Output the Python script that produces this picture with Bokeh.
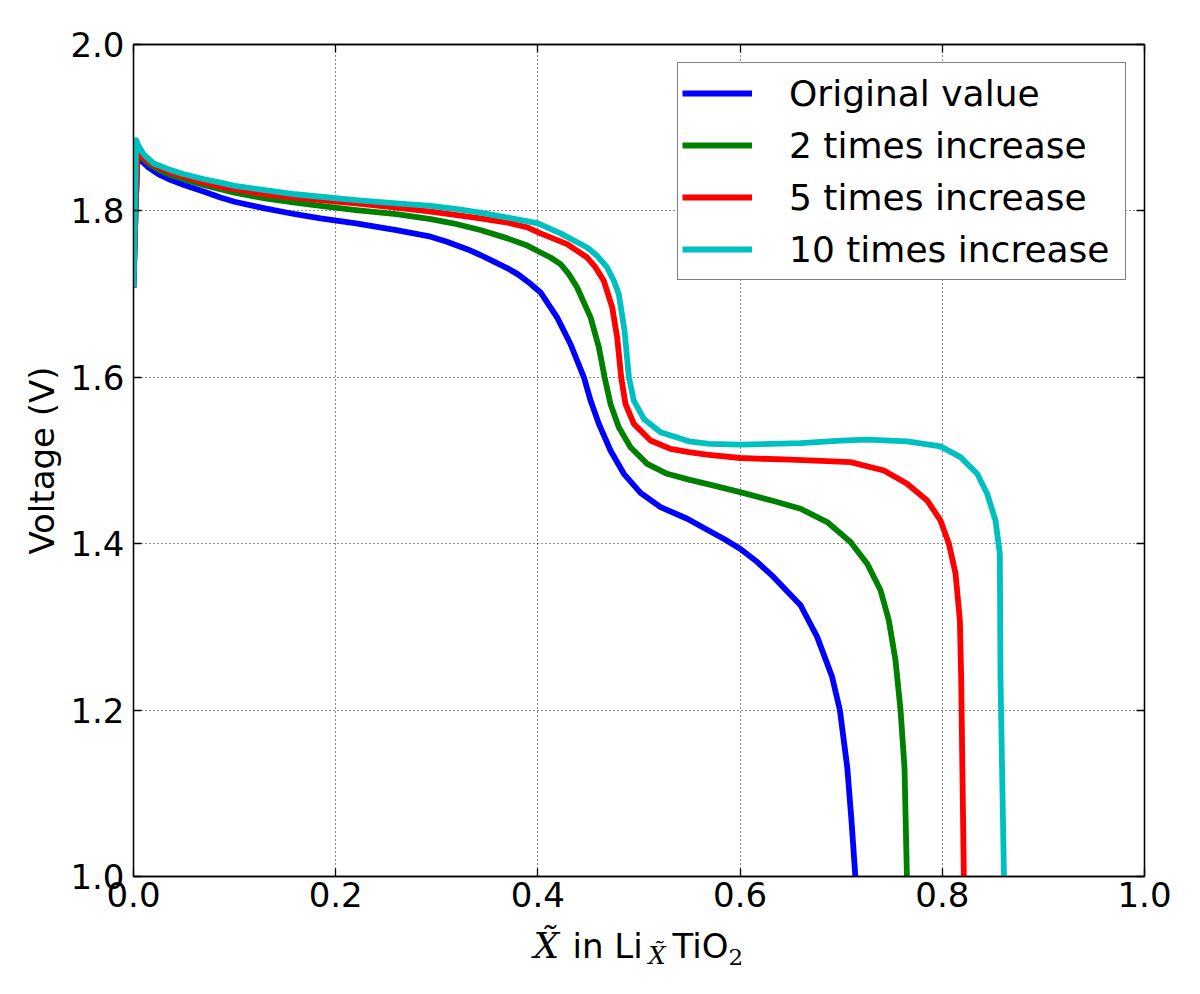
from bokeh.plotting import figure
from bokeh.layouts import column
from bokeh.models import Range1d, FixedTicker, LinearAxis, Legend, LegendItem, CustomJSTickFormatter
from bokeh.core.properties import value
from bokeh.embed import file_html
from bokeh.resources import INLINE

# ---------------- data ----------------
x_orig = [0.0, 0.002, 0.004, 0.008, 0.015, 0.025, 0.037, 0.05, 0.07, 0.086, 0.1, 0.13, 0.16, 0.185,
          0.22, 0.26, 0.294, 0.31, 0.33, 0.343, 0.355, 0.37, 0.38, 0.392, 0.4026, 0.419, 0.4322,
          0.4455, 0.4521, 0.4603, 0.4718, 0.485, 0.5015, 0.5213, 0.5477, 0.567, 0.585, 0.6,
          0.617, 0.633, 0.6598, 0.6762, 0.691, 0.6987, 0.706, 0.710, 0.714]
v_orig = [1.708, 1.80, 1.866, 1.860, 1.852, 1.844, 1.837, 1.831, 1.823, 1.816, 1.811, 1.803, 1.796, 1.791,
          1.785, 1.777, 1.769, 1.763, 1.754, 1.747, 1.740, 1.731, 1.724, 1.713, 1.702, 1.672, 1.640,
          1.600, 1.572, 1.544, 1.512, 1.484, 1.461, 1.444, 1.430, 1.417, 1.405, 1.394,
          1.378, 1.360, 1.326, 1.288, 1.240, 1.200, 1.131, 1.070, 1.0]

x_2x = [0.0, 0.002, 0.004, 0.008, 0.015, 0.025, 0.037, 0.05, 0.07, 0.086, 0.1, 0.13, 0.16, 0.185,
        0.22, 0.26, 0.294, 0.32, 0.343, 0.37, 0.39, 0.4026, 0.4125, 0.4224, 0.4306, 0.4388, 0.4521,
        0.4603, 0.466, 0.4718, 0.480, 0.4916, 0.5081, 0.5278, 0.5493, 0.57, 0.6, 0.634, 0.6598,
        0.6861, 0.7092, 0.7257, 0.7389, 0.7471, 0.7537, 0.7587, 0.7626, 0.765]
v_2x = [1.708, 1.80, 1.869, 1.864, 1.857, 1.849, 1.843, 1.838, 1.831, 1.826, 1.822, 1.815, 1.810, 1.806,
        1.801, 1.796, 1.790, 1.784, 1.777, 1.767, 1.758, 1.750, 1.744, 1.736, 1.724, 1.708, 1.672,
        1.636, 1.600, 1.568, 1.540, 1.516, 1.496, 1.484, 1.477, 1.471, 1.462, 1.451, 1.442,
        1.426, 1.402, 1.376, 1.344, 1.308, 1.260, 1.200, 1.131, 1.0]

x_5x = [0.0, 0.002, 0.004, 0.008, 0.015, 0.025, 0.037, 0.05, 0.07, 0.086, 0.1, 0.13, 0.16, 0.185,
        0.22, 0.26, 0.294, 0.32, 0.343, 0.37, 0.39, 0.4026, 0.4289, 0.4487, 0.457, 0.4652, 0.4735,
        0.4784, 0.4824, 0.4866, 0.4949, 0.5114, 0.5312, 0.5493, 0.567, 0.6, 0.65, 0.7092, 0.7422,
        0.7652, 0.785, 0.7982, 0.8065, 0.8131, 0.8174, 0.8187, 0.8213]
v_5x = [1.708, 1.80, 1.870, 1.866, 1.859, 1.852, 1.846, 1.841, 1.834, 1.829, 1.826, 1.820, 1.816, 1.813,
        1.809, 1.804, 1.799, 1.795, 1.791, 1.786, 1.780, 1.773, 1.760, 1.744, 1.732, 1.716, 1.684,
        1.648, 1.600, 1.568, 1.544, 1.524, 1.514, 1.510, 1.507, 1.503, 1.501, 1.498, 1.488,
        1.472, 1.452, 1.428, 1.400, 1.364, 1.308, 1.236, 1.0]

x_10x = [0.0, 0.0015, 0.0026, 0.005, 0.01, 0.02, 0.037, 0.05, 0.07, 0.086, 0.1, 0.13, 0.16, 0.185,
         0.22, 0.26, 0.294, 0.32, 0.343, 0.37, 0.4, 0.4224, 0.4487, 0.4586, 0.4685, 0.4751, 0.480,
         0.4857, 0.4900, 0.4949, 0.5048, 0.5213, 0.5493, 0.57, 0.6, 0.6598, 0.7, 0.7257, 0.7652,
         0.7982, 0.818, 0.8345, 0.8444, 0.8526, 0.8569, 0.8576, 0.861]
v_10x = [1.708, 1.80, 1.885, 1.878, 1.868, 1.857, 1.849, 1.844, 1.838, 1.834, 1.830, 1.825, 1.820, 1.817,
         1.813, 1.809, 1.806, 1.802, 1.798, 1.792, 1.785, 1.773, 1.756, 1.746, 1.732, 1.716, 1.700,
         1.656, 1.600, 1.572, 1.550, 1.534, 1.523, 1.520, 1.519, 1.521, 1.524, 1.525, 1.523,
         1.517, 1.504, 1.484, 1.460, 1.428, 1.388, 1.236, 1.0]

series_names = ["Original value", "2 times increase", "5 times increase", "10 times increase"]
series_colors = ["#0000ff", "#008000", "#ff0000", "#00bfbf"]

x_ticks = [0.0, 0.2, 0.4, 0.6, 0.8, 1.0]
x_tick_labels = ["0.0", "0.2", "0.4", "0.6", "0.8", "1.0"]
y_ticks = [1.0, 1.2, 1.4, 1.6, 1.8, 2.0]
y_tick_labels = ["1.0", "1.2", "1.4", "1.6", "1.8", "2.0"]

y_label = "Voltage (V)"

# ---------------- main figure ----------------
W = 1192
H_MAIN = 924
H_LABEL = 62
FRAME_L, FRAME_R = 133, 1144
p = figure(width=W, height=H_MAIN, output_backend="svg", toolbar_location=None,
           x_range=Range1d(0, 1), y_range=Range1d(1, 2),
           min_border_left=FRAME_L, min_border_right=W - FRAME_R, min_border_top=44,
           min_border_bottom=H_MAIN - 876)
p.background_fill_color = "white"
p.border_fill_color = "white"
p.outline_line_color = "black"
p.outline_line_width = 1.3

FONT = "DejaVu Sans"
FS = "34px"

for ax, ticks, labels in ((p.xaxis[0], x_ticks, x_tick_labels), (p.yaxis[0], y_ticks, y_tick_labels)):
    ax.ticker = FixedTicker(ticks=ticks)
    ax.major_label_overrides = {t: l for t, l in zip(ticks, labels)}
    ax.major_label_text_font = FONT
    ax.major_label_text_font_size = FS
    ax.major_label_text_color = "black"
    ax.major_tick_in = 8
    ax.major_tick_out = 0
    ax.minor_tick_in = 0
    ax.minor_tick_out = 0
    ax.axis_line_color = "black"
    ax.axis_line_width = 1.3
    ax.major_tick_line_color = "black"
    ax.major_tick_line_width = 1.3

p.xaxis[0].major_label_standoff = 5
p.yaxis[0].major_label_standoff = 9
p.yaxis[0].axis_label = y_label
p.yaxis[0].axis_label_text_font = FONT
p.yaxis[0].axis_label_text_font_size = FS
p.yaxis[0].axis_label_text_font_style = "normal"
p.yaxis[0].axis_label_text_color = "black"
p.yaxis[0].axis_label_standoff = 5

blank = CustomJSTickFormatter(code="return ''")
top_ax = LinearAxis(ticker=FixedTicker(ticks=x_ticks), formatter=blank, major_tick_in=8, major_tick_out=0,
                    minor_tick_in=0, minor_tick_out=0, axis_line_color="black", axis_line_width=1.3,
                    major_tick_line_width=1.3, major_label_standoff=0)
right_ax = LinearAxis(ticker=FixedTicker(ticks=y_ticks), formatter=blank, major_tick_in=8, major_tick_out=0,
                      minor_tick_in=0, minor_tick_out=0, axis_line_color="black", axis_line_width=1.3,
                      major_tick_line_width=1.3, major_label_standoff=0)
p.add_layout(top_ax, "above")
p.add_layout(right_ax, "right")

p.xgrid.ticker = FixedTicker(ticks=x_ticks)
p.ygrid.ticker = FixedTicker(ticks=y_ticks)
for g in (p.xgrid[0], p.ygrid[0]):
    g.grid_line_color = "black"
    g.grid_line_dash = "1 3"
    g.grid_line_width = 1
    g.grid_line_alpha = 0.9

items = []
for xs, vs, name, col in zip((x_orig, x_2x, x_5x, x_10x), (v_orig, v_2x, v_5x, v_10x),
                             series_names, series_colors):
    r = p.line(xs, vs, line_color=col, line_width=5.8, line_join="round", line_cap="butt")
    items.append(LegendItem(label=name, renderers=[r]))

legend = Legend(items=items, location="top_right")
legend.margin = 18
legend.padding = 4
legend.spacing = 0
legend.label_height = 52
legend.glyph_height = 52
legend.glyph_width = 70
legend.label_standoff = 37
legend.label_width = 332
legend.label_text_font = FONT
legend.label_text_font_size = "36px"
legend.label_text_color = "black"
legend.border_line_color = "black"
legend.border_line_width = 1.3
legend.background_fill_color = "white"
legend.background_fill_alpha = 1.0
p.add_layout(legend, "center")

# ---------------- x axis label strip (mathtext-like pieces) ----------------
# the column aligns this strip's frame with the main frame, so x maps to page pixels;
# y is measured up from the bottom of the strip, at each piece's vertical middle
q = figure(width=W, height=H_LABEL, output_backend="svg", toolbar_location=None,
           x_range=Range1d(FRAME_L, FRAME_R), y_range=Range1d(0, H_LABEL),
           min_border_left=FRAME_L, min_border_right=W - FRAME_R, min_border_top=0, min_border_bottom=0,
           x_axis_location=None, y_axis_location=None)
q.grid.visible = False
q.outline_line_color = None
q.background_fill_color = "white"
q.border_fill_color = "white"

serif_big = (["X\u0303"], [533], [41.4])
sans_parts = (["in Li", "TiO"], [572, 672], [40.6, 40.6])
serif_sub = (["X\u0303"], [648], [30.9])
serif_two = (["2"], [728], [29.5])

q.text(x=serif_big[1], y=serif_big[2], text=serif_big[0], text_font=value("DejaVu Serif"),
       text_font_style="italic", text_font_size="36px", text_color="black",
       text_align="left", text_baseline="middle")
q.text(x=sans_parts[1], y=sans_parts[2], text=sans_parts[0], text_font=value(FONT),
       text_font_size="34px", text_color="black", text_align="left", text_baseline="middle")
q.text(x=serif_sub[1], y=serif_sub[2], text=serif_sub[0], text_font=value("DejaVu Serif"),
       text_font_style="italic", text_font_size="24px", text_color="black",
       text_align="left", text_baseline="middle")
q.text(x=serif_two[1], y=serif_two[2], text=serif_two[0], text_font=value("DejaVu Serif"),
       text_font_size="23px", text_color="black", text_align="left", text_baseline="middle")

layout = column(p, q, spacing=0)
open("out.html", "w").write(file_html(layout, INLINE))
